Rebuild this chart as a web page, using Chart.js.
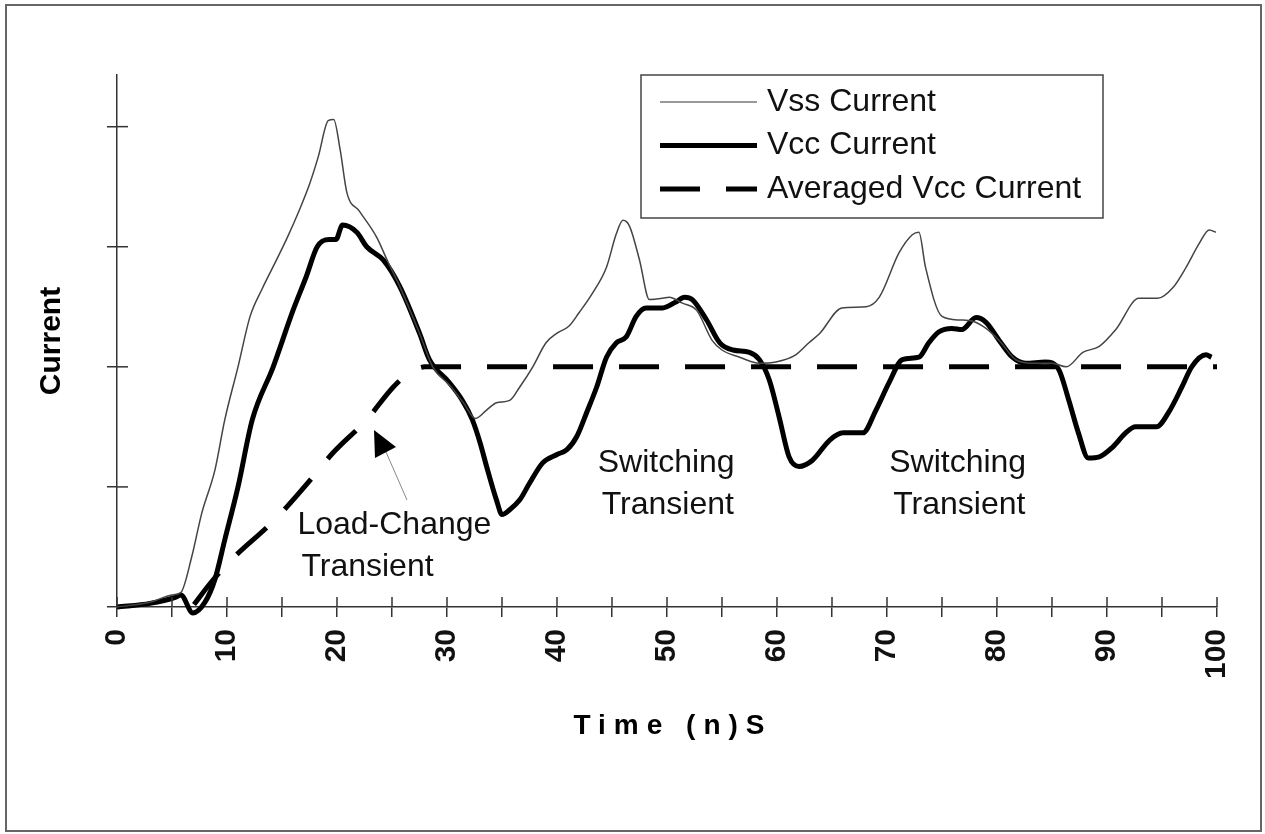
<!DOCTYPE html>
<html>
<head>
<meta charset="utf-8">
<script src="https://cdn.jsdelivr.net/npm/chart.js@4"></script>
<style>
  body { margin: 0; background: #fff; }
  #wrap { position: relative; width: 1265px; height: 834px; }
</style>
</head>
<body>
<div id="wrap"><canvas id="myChart"></canvas></div>
<script>
// values (time in ns, current in axis units)
const vssTime = [0, 3, 5, 5.8, 6.8, 7.7, 8.9, 9.8, 11, 12.1, 13.2, 14.5, 15.5, 16.6, 17.5, 18.3, 19.2, 19.7, 20.3, 20.9, 22, 23.6, 24.6, 25.7, 27.5, 28.7, 30.2, 31.5, 32.6, 33.6, 34.5, 35.7, 36.6, 37.8, 39, 40, 41.1, 42, 43.2, 44.5, 45.4, 46, 46.6, 47.5, 48.4, 49.6, 50.2, 51.4, 52.7, 54.1, 55, 56.6, 58.4, 59.9, 61.7, 62.9, 63.9, 65.9, 68.1, 69.3, 71.1, 72.3, 72.9, 73.5, 75, 76.6, 77.8, 79, 80.2, 81.7, 83.2, 85, 86.3, 87.8, 89.3, 90.8, 92.9, 94.6, 96, 97.2, 98.4, 99.3, 99.9];
const vssValue = [0, 0.04, 0.1, 0.12, 0.42, 0.78, 1.14, 1.56, 2.0, 2.42, 2.65, 2.89, 3.08, 3.31, 3.52, 3.75, 4.05, 4.06, 3.8, 3.45, 3.3, 3.08, 2.88, 2.67, 2.28, 2.0, 1.85, 1.7, 1.57, 1.64, 1.7, 1.72, 1.83, 2.0, 2.2, 2.28, 2.34, 2.45, 2.61, 2.83, 3.11, 3.22, 3.17, 2.89, 2.56, 2.57, 2.58, 2.53, 2.47, 2.22, 2.14, 2.08, 2.03, 2.04, 2.1, 2.2, 2.28, 2.49, 2.5, 2.58, 2.95, 3.1, 3.12, 2.83, 2.42, 2.39, 2.38, 2.32, 2.22, 2.06, 2.03, 2.03, 2.0, 2.12, 2.17, 2.31, 2.57, 2.57, 2.66, 2.83, 3.03, 3.14, 3.12];

const vccTime = [0, 3, 5.3, 5.8, 6.9, 8, 8.9, 9.8, 11, 12.3, 14.2, 16, 17.2, 18.2, 19.3, 19.9, 20.5, 21.8, 22.7, 24.2, 25.7, 27.5, 28.4, 30.2, 31.4, 32.3, 33, 33.6, 34.5, 35, 35.7, 36.6, 37.5, 38.7, 40, 40.9, 41.8, 42.7, 43.6, 44.5, 45.4, 46.3, 47.2, 48.1, 49.6, 50.8, 51.6, 52.3, 53.6, 54.8, 56, 57.5, 58.4, 59.3, 60.2, 61.1, 62, 63.2, 64.8, 66, 67.8, 69, 70.2, 71.4, 72.9, 73.8, 74.7, 75.9, 76.8, 78.1, 79, 80.2, 81.4, 82.6, 84.4, 85.6, 86.5, 87.4, 88.3, 89.3, 90.5, 91.7, 92.6, 94.5, 95.6, 96.8, 97.7, 99, 99.5];
const vccValue = [0, 0.03, 0.08, 0.1, -0.05, 0.04, 0.23, 0.56, 1.0, 1.56, 2.0, 2.47, 2.75, 3.0, 3.06, 3.06, 3.18, 3.12, 3.0, 2.89, 2.67, 2.28, 2.06, 1.87, 1.72, 1.56, 1.37, 1.17, 0.89, 0.77, 0.81, 0.89, 1.03, 1.2, 1.27, 1.31, 1.42, 1.62, 1.83, 2.08, 2.2, 2.25, 2.42, 2.49, 2.49, 2.54, 2.58, 2.56, 2.39, 2.2, 2.14, 2.12, 2.06, 1.89, 1.58, 1.25, 1.17, 1.22, 1.39, 1.45, 1.45, 1.64, 1.87, 2.06, 2.08, 2.2, 2.29, 2.32, 2.31, 2.41, 2.37, 2.22, 2.08, 2.03, 2.04, 1.98, 1.73, 1.45, 1.24, 1.25, 1.33, 1.45, 1.5, 1.5, 1.62, 1.83, 2.0, 2.1, 2.08];

const avgTime = [7, 8.5, 10.7, 13.7, 15.4, 17.5, 19.6, 22.7, 25.1, 26.6, 28, 100];
const avgValue = [0.02, 0.2, 0.42, 0.67, 0.83, 1.05, 1.28, 1.56, 1.83, 1.95, 2.0, 2.0];

const seriesNames = ['Vss Current', 'Vcc Current', 'Averaged Vcc Current'];
const xTicks = [0, 10, 20, 30, 40, 50, 60, 70, 80, 90, 100];
const notes = [
  { lines: ['Load-Change', 'Transient'], x: 16.4, y: 0.68 },
  { lines: ['Switching', 'Transient'], x: 43.7, y: 1.2 },
  { lines: ['Switching', 'Transient'], x: 70.2, y: 1.2 }
];

const FONT = "'Liberation Sans', Arial, sans-serif";

function toPoints(xs, ys) {
  return xs.map((x, i) => ({ x: x, y: ys[i] }));
}

// frame, legend box, annotations, inner tick halves, x title
const extras = {
  id: 'extras',
  beforeDraw(chart) {
    const ctx = chart.ctx;
    ctx.save();
    ctx.fillStyle = '#fff';
    ctx.fillRect(0, 0, chart.width, chart.height);
    ctx.strokeStyle = '#666';
    ctx.lineWidth = 2;
    ctx.strokeRect(6, 5, chart.width - 10, chart.height - 8);
    ctx.restore();
  },
  afterDraw(chart) {
    const ctx = chart.ctx;
    const xs = chart.scales.x;
    const ys = chart.scales.y;
    const area = chart.chartArea;
    ctx.save();

    // tick marks cross the axes
    ctx.strokeStyle = '#333';
    ctx.lineWidth = 1.5;
    xs.ticks.forEach((t) => {
      const px = xs.getPixelForValue(t.value);
      ctx.beginPath();
      ctx.moveTo(px, area.bottom);
      ctx.lineTo(px, area.bottom - 10);
      ctx.stroke();
    });
    ys.ticks.forEach((t) => {
      if (t.value === 0) return;
      const py = ys.getPixelForValue(t.value);
      ctx.beginPath();
      ctx.moveTo(area.left, py);
      ctx.lineTo(area.left + 11, py);
      ctx.stroke();
    });

    // legend
    const lx = 641, ly = 75, lw = 462, lh = 143;
    ctx.fillStyle = '#fff';
    ctx.fillRect(lx, ly, lw, lh);
    ctx.strokeStyle = '#444';
    ctx.lineWidth = 1.5;
    ctx.strokeRect(lx, ly, lw, lh);
    ctx.font = '32px ' + FONT;
    ctx.textBaseline = 'middle';
    ctx.textAlign = 'left';
    chart.data.datasets.forEach((ds, i) => {
      const y = ly + 27 + i * 43.5;
      ctx.beginPath();
      ctx.strokeStyle = i === 0 ? '#777' : ds.borderColor;
      ctx.lineWidth = ds.borderWidth;
      ctx.setLineDash(ds.borderDash || []);
      ctx.moveTo(660, y);
      ctx.lineTo(757, y);
      ctx.stroke();
      ctx.setLineDash([]);
      ctx.fillStyle = '#111';
      ctx.fillText(ds.label, 767, y);
    });

    // annotations
    ctx.font = '32px ' + FONT;
    ctx.fillStyle = '#111';
    notes.forEach((n) => {
      const px = xs.getPixelForValue(n.x);
      const py = ys.getPixelForValue(n.y);
      n.lines.forEach((s, k) => ctx.fillText(s, px + (k ? 4 : 0), py + k * 42));
    });

    // arrow for the load-change note
    ctx.strokeStyle = '#888';
    ctx.lineWidth = 1;
    ctx.beginPath();
    ctx.moveTo(407, 500);
    ctx.lineTo(386, 452);
    ctx.stroke();
    ctx.fillStyle = '#000';
    ctx.beginPath();
    ctx.moveTo(374, 430);
    ctx.lineTo(396, 447);
    ctx.lineTo(375, 458);
    ctx.closePath();
    ctx.fill();

    // x axis title, spaced out as in the original
    ctx.font = 'bold 28px ' + FONT;
    ctx.textAlign = 'center';
    ctx.fillStyle = '#000';
    ctx.letterSpacing = '8px';
    ctx.fillText('Time (n)S', (area.left + area.right) / 2 + 6, 726);
    ctx.restore();
  }
};

new Chart(document.getElementById('myChart'), {
  type: 'line',
  data: {
    datasets: [
      {
        label: seriesNames[0],
        data: toPoints(vssTime, vssValue),
        borderColor: '#444',
        borderWidth: 1.5,
        cubicInterpolationMode: 'monotone',
        pointRadius: 0,
        clip: false
      },
      {
        label: seriesNames[1],
        data: toPoints(vccTime, vccValue),
        borderColor: '#000',
        borderWidth: 5,
        cubicInterpolationMode: 'monotone',
        pointRadius: 0,
        clip: false
      },
      {
        label: seriesNames[2],
        data: toPoints(avgTime, avgValue),
        borderColor: '#000',
        borderWidth: 5,
        borderDash: [40, 26],
        cubicInterpolationMode: 'monotone',
        pointRadius: 0,
        clip: false
      }
    ]
  },
  options: {
    responsive: true,
    maintainAspectRatio: false,
    animation: false,
    layout: { padding: { top: 75, right: 47, left: 0, bottom: 0 } },
    plugins: { legend: { display: false }, tooltip: { enabled: false } },
    scales: {
      x: {
        type: 'linear',
        min: 0,
        max: 100,
        afterFit(scale) { scale.height = 227; },
        grid: { drawOnChartArea: false, color: '#333', lineWidth: 1.5, tickLength: 10 },
        border: { color: '#333', width: 1.5 },
        ticks: {
          stepSize: 5,
          autoSkip: false,
          maxRotation: 90,
          minRotation: 90,
          padding: 12,
          color: '#111',
          font: { family: FONT, size: 30, weight: 'bold' },
          callback: (v) => (xTicks.includes(v) ? String(v) : '')
        }
      },
      y: {
        min: 0,
        max: 4.43,
        afterFit(scale) { scale.width = 117; },
        grid: { drawOnChartArea: false, color: '#333', lineWidth: 1.5, tickLength: 10 },
        border: { color: '#333', width: 1.5 },
        ticks: { display: false, stepSize: 1, includeBounds: false },
        title: {
          display: true,
          text: 'Current',
          color: '#000',
          font: { family: FONT, size: 30, weight: 'bold' },
          padding: { top: 34, bottom: 0 }
        }
      }
    }
  },
  plugins: [extras]
});
</script>
</body>
</html>
